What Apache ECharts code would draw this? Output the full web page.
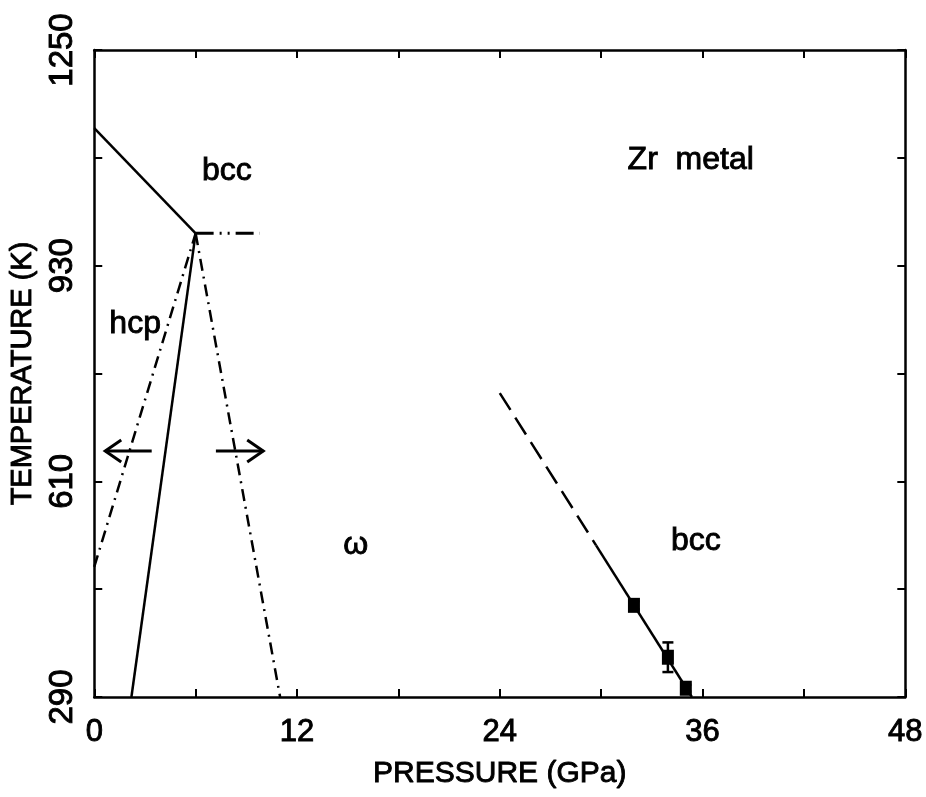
<!DOCTYPE html>
<html>
<head>
<meta charset="utf-8">
<title>Zr metal phase diagram</title>
<script src="https://cdn.jsdelivr.net/npm/echarts@6/dist/echarts.min.js"></script>
<style>
  html, body { margin: 0; padding: 0; background: #fff; }
  #chart { width: 926px; height: 797px; }
</style>
</head>
<body>
<div id="chart"></div>
<script>
// Phase boundaries of zirconium, pressure (GPa) vs temperature (K)
const bccHcpBoundary   = [[0, 1134], [6.0, 978]];
const hcpOmegaBoundary = [[2.2, 290], [6.0, 978]];
const hcpMetastable    = [[0, 483], [6.0, 978]];
const omegaMetastable  = [[6.0, 978], [11.0, 290]];
const tripleExtension  = [[6.0, 978], [9.8, 978]];
const omegaBccFit      = [[29.7, 515], [35.37, 290]];
const omegaBccExtrap   = [[24.0, 741], [29.7, 515]];

// Measured omega -> bcc transition points with uncertainty
const measuredP   = [31.94, 33.95, 35.01];
const measuredT   = [426, 349, 303];
const measuredErr = [6, 22, 5];

// Hysteresis arrows
const arrowT    = 655;
const arrowFrom = [3.4, 7.2];
const arrowTo   = [0.65, 10.0];

// Phase-field labels
const regionText = ['bcc', 'Zr  metal', 'hcp', 'ω', 'bcc'];
const regionP    = [7.85, 35.3, 2.42, 15.47, 35.6];
const regionT    = [1070, 1087, 843, 515, 521];

// Axis ranges
const pressureRange = [0, 48, 12];
const tempRange     = [290, 1250, 320];

const FONT = '"Liberation Sans", Arial, sans-serif';
const INK = '#000';

// regular face with a hairline outline for a slightly heavier stroke
function textStyle(size) {
  return {
    fontFamily: FONT, fontSize: size, color: INK,
    textBorderColor: INK, textBorderWidth: 0.9
  };
}

function boundary(data, type, width) {
  return {
    type: 'line', data: data, symbol: 'none', silent: true,
    lineStyle: { color: INK, width: width || 2.5, type: type || 'solid' },
    z: 3
  };
}

const chart = echarts.init(document.getElementById('chart'), null, { renderer: 'canvas' });

const axisCommon = {
  axisLine: { show: true, onZero: false, lineStyle: { color: INK, width: 2.5 } },
  axisTick: { show: true, inside: true, length: 8, lineStyle: { color: INK, width: 2 } },
  minorTick: { show: true, splitNumber: 2, length: 8, lineStyle: { color: INK, width: 2 } },
  splitLine: { show: false },
  minorSplitLine: { show: false }
};

const plainNumber = v => String(v);

chart.setOption({
  animation: false,
  backgroundColor: '#fff',
  grid: { left: 94, right: 19, top: 50, bottom: 100, containLabel: false },
  xAxis: [
    Object.assign({}, axisCommon, {
      type: 'value', position: 'bottom',
      min: pressureRange[0], max: pressureRange[1], interval: pressureRange[2],
      name: 'PRESSURE (GPa)', nameLocation: 'middle', nameGap: 62,
      nameTextStyle: textStyle(30),
      axisLabel: Object.assign(textStyle(31), { margin: 20, formatter: plainNumber })
    }),
    Object.assign({}, axisCommon, {
      type: 'value', position: 'top',
      min: pressureRange[0], max: pressureRange[1], interval: pressureRange[2],
      axisLabel: { show: false }
    })
  ],
  yAxis: [
    Object.assign({}, axisCommon, {
      type: 'value', position: 'left',
      min: tempRange[0], max: tempRange[1], interval: tempRange[2],
      name: 'TEMPERATURE (K)', nameLocation: 'middle', nameGap: 50,
      nameTextStyle: textStyle(29),
      axisLabel: Object.assign(textStyle(33), { rotate: 90, margin: 15, formatter: plainNumber })
    }),
    Object.assign({}, axisCommon, {
      type: 'value', position: 'right',
      min: tempRange[0], max: tempRange[1], interval: tempRange[2],
      axisLabel: { show: false }
    })
  ],
  series: [
    boundary(bccHcpBoundary, 'solid'),
    boundary(hcpOmegaBoundary, 'solid'),
    boundary(hcpMetastable, [12, 6, 2, 6]),
    boundary(omegaMetastable, [12, 6, 2, 6]),
    boundary(tripleExtension, [18, 6, 2, 6, 2, 6], 3),
    boundary(omegaBccFit, 'solid'),
    boundary(omegaBccExtrap, [20, 9]),
    {
      // error bars on the measured points
      type: 'custom', silent: true, z: 4,
      data: measuredP.map((p, i) => [p, measuredT[i], measuredErr[i]]),
      renderItem: function (params, api) {
        const p = api.value(0), t = api.value(1), e = api.value(2);
        const top = api.coord([p, t + e]);
        const bot = api.coord([p, t - e]);
        const cap = 5.5;
        const st = { stroke: INK, lineWidth: 2.5, fill: null };
        return {
          type: 'group',
          children: [
            { type: 'line', shape: { x1: top[0], y1: top[1], x2: bot[0], y2: bot[1] }, style: st },
            { type: 'line', shape: { x1: top[0] - cap, y1: top[1], x2: top[0] + cap, y2: top[1] }, style: st },
            { type: 'line', shape: { x1: bot[0] - cap, y1: bot[1], x2: bot[0] + cap, y2: bot[1] }, style: st }
          ]
        };
      }
    },
    {
      type: 'scatter', silent: true, z: 5,
      data: measuredP.map((p, i) => [p, measuredT[i]]),
      symbol: 'rect', symbolSize: [12, 15],
      itemStyle: { color: INK, opacity: 1 }
    },
    {
      // hysteresis arrows
      type: 'custom', silent: true, z: 4,
      data: arrowFrom.map((p, i) => [p, arrowT, arrowTo[i]]),
      renderItem: function (params, api) {
        const a = api.coord([api.value(0), api.value(1)]);
        const b = api.coord([api.value(2), api.value(1)]);
        const dir = b[0] > a[0] ? 1 : -1;
        const back = 16, spread = 11;
        const st = { stroke: INK, lineWidth: 3, fill: null, lineJoin: 'miter' };
        return {
          type: 'group',
          children: [
            { type: 'line', shape: { x1: a[0], y1: a[1], x2: b[0], y2: b[1] }, style: st },
            { type: 'polyline', shape: { points: [
              [b[0] - dir * back, b[1] - spread], [b[0], b[1]], [b[0] - dir * back, b[1] + spread]
            ] }, style: st }
          ]
        };
      }
    },
    {
      // phase-field labels
      type: 'custom', silent: true, z: 6,
      data: regionText.map((s, i) => [regionP[i], regionT[i], i]),
      renderItem: function (params, api) {
        const c = api.coord([api.value(0), api.value(1)]);
        return {
          type: 'text', x: c[0], y: c[1],
          style: {
            text: regionText[api.value(2)],
            font: '32px ' + FONT,
            fill: INK, stroke: INK, lineWidth: 0.9,
            align: 'center', verticalAlign: 'middle'
          }
        };
      }
    }
  ]
});
</script>
</body>
</html>
